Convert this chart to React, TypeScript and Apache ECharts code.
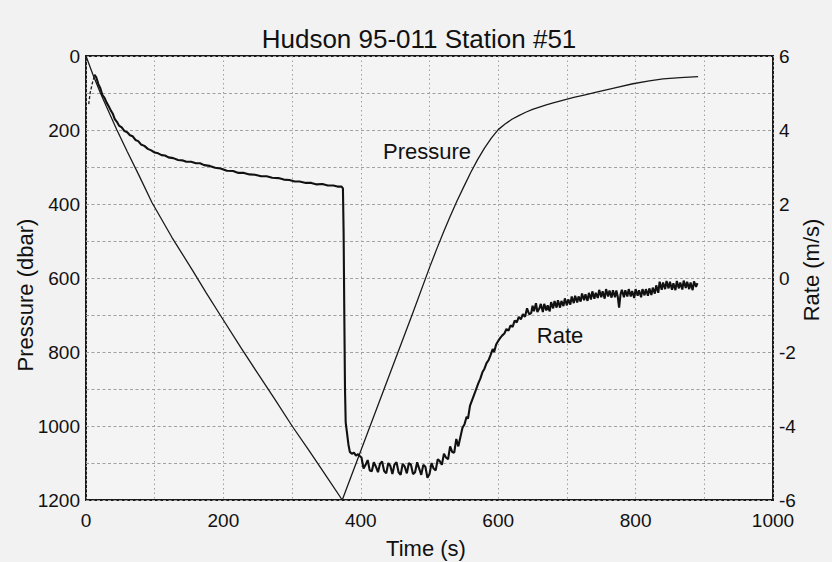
import React, { useEffect, useRef } from "react";
import * as echarts from "echarts";

// ---- data ----
const pressureDown: [number, number][] = [
  [0, 0], [10, 50], [21, 100], [30, 138], [45, 200], [60, 258], [78, 326], [96, 396],
  [125, 490], [156, 582], [175, 640], [196, 702], [225, 787], [250, 858], [275, 928],
  [300, 1000], [325, 1067], [350, 1136], [373, 1200],
];

const pressureUp: [number, number][] = [
  [373, 1200], [400, 1067], [425, 944], [450, 821], [475, 698], [500, 572], [510, 524],
  [520, 478], [530, 434], [540, 392], [550, 353], [560, 315], [570, 280], [580, 249],
  [590, 222], [600, 199], [610, 184], [620, 171], [630, 161], [640, 152], [650, 144.5],
  [660, 138], [670, 132], [680, 126.5], [695, 119], [710, 112], [725, 105.5],
  [743, 97.5], [770, 86], [796, 75], [820, 67], [840, 62], [865, 58.5], [891, 56],
];

const rateLead: [number, number][] = [
  [4, 4.7], [6, 5.0], [9, 5.25], [12, 5.45],
];

const rateDescent: [number, number][] = [
  [12, 5.5], [15, 5.42], [18, 5.24], [21, 5.12], [24, 4.94], [27, 4.87], [30, 4.74],
  [33, 4.64], [36, 4.53], [39, 4.44], [42, 4.29], [45, 4.22], [48, 4.12], [52, 4.07],
  [56, 3.97], [60, 3.94], [64, 3.86], [68, 3.83], [72, 3.73], [76, 3.7], [80, 3.61],
  [85, 3.57], [90, 3.49], [95, 3.45], [100, 3.39], [105, 3.37], [110, 3.32], [115, 3.31],
  [120, 3.26], [127, 3.24], [134, 3.19], [140, 3.18], [146, 3.14], [153, 3.14],
  [160, 3.1], [166, 3.1], [172, 3.05], [180, 3.03], [188, 2.98], [196, 2.96], [205, 2.9],
  [214, 2.89], [222, 2.84], [230, 2.84], [238, 2.8], [246, 2.79], [255, 2.75],
  [263, 2.75], [271, 2.71], [280, 2.7], [288, 2.66], [296, 2.65], [304, 2.61],
  [311, 2.61], [320, 2.57], [328, 2.57], [336, 2.53], [344, 2.54], [352, 2.5],
  [360, 2.5], [366, 2.47], [372, 2.47],
];

const rateDrop: [number, number][] = [
  [374, 2.42], [375, 1.2], [376, -1.0], [377, -3.0], [378, -3.9], [380, -4.2],
  [382, -4.5], [384, -4.7], [387, -4.75], [390, -4.72], [393, -4.8], [396, -4.76],
  [399, -4.82],
];

const rateBottom: [number, number][] = [
  [401, -4.85], [404, -5.15], [407, -5.05], [410, -4.92], [413, -5.2], [416, -5.22],
  [419, -4.98], [422, -5.1], [425, -5.25], [428, -5.02], [431, -4.96], [434, -5.22],
  [437, -5.28], [440, -5.0], [443, -5.08], [446, -5.3], [449, -5.04], [452, -4.98],
  [455, -5.25], [458, -5.32], [461, -5.02], [464, -5.1], [467, -5.28], [470, -5.0],
  [473, -5.05], [476, -5.3], [479, -5.25], [482, -4.98], [485, -5.15], [488, -5.32],
  [491, -5.05], [494, -5.1], [497, -5.4], [500, -5.3], [503, -5.0], [506, -5.15],
  [509, -5.2], [512, -4.9], [515, -4.95], [518, -5.05], [521, -4.75], [524, -4.85],
  [527, -4.9], [530, -4.55], [533, -4.7], [536, -4.72], [539, -4.35], [542, -4.55],
  [545, -4.3], [548, -4.05],
];

const rateRecovery: [number, number][] = [
  [551, -3.95], [554, -3.75], [556, -3.8], [559, -3.45], [562, -3.3], [565, -3.15],
  [568, -3.0], [571, -2.85], [574, -2.72], [577, -2.55], [580, -2.45], [583, -2.3],
  [586, -2.22], [589, -2.08], [592, -1.92], [594, -2.0], [597, -1.8], [600, -1.7],
  [603, -1.62], [606, -1.55], [609, -1.5], [612, -1.38], [615, -1.42], [618, -1.28],
  [621, -1.32], [624, -1.15], [627, -1.2], [630, -1.05], [633, -1.12], [636, -0.98],
  [639, -1.05], [642, -0.82], [645, -0.98],
];

const rateTail: [number, number][] = [
  [648, -0.95], [650, -0.75], [652, -0.9], [655, -0.68], [657, -0.92], [660, -0.82],
  [662, -0.7], [665, -0.92], [667, -0.7], [670, -0.88], [672, -0.74], [675, -0.9],
  [677, -0.65], [680, -0.82], [682, -0.62], [685, -0.8], [687, -0.6], [690, -0.8],
  [692, -0.62], [695, -0.76], [697, -0.55], [700, -0.74], [702, -0.58], [705, -0.72],
  [707, -0.5], [710, -0.68], [712, -0.48], [715, -0.66], [717, -0.5], [720, -0.64],
  [722, -0.42], [725, -0.6], [727, -0.44], [730, -0.62], [732, -0.4], [735, -0.58],
  [737, -0.36], [740, -0.56], [742, -0.4], [745, -0.54], [747, -0.32], [750, -0.52],
  [752, -0.36], [755, -0.56], [757, -0.3], [760, -0.5], [762, -0.34], [765, -0.53],
  [767, -0.33], [770, -0.52], [772, -0.34], [774, -0.5], [776, -0.8], [778, -0.45],
  [780, -0.32], [783, -0.52], [785, -0.33], [788, -0.5], [790, -0.3], [793, -0.5],
  [795, -0.35], [798, -0.54], [800, -0.3], [803, -0.48], [805, -0.33], [808, -0.52],
  [810, -0.3], [813, -0.47], [815, -0.3], [818, -0.48], [820, -0.28], [823, -0.46],
  [825, -0.26], [828, -0.42], [830, -0.2], [833, -0.4], [835, -0.1], [838, -0.32],
  [840, -0.12], [843, -0.3], [845, -0.08], [848, -0.28], [850, -0.1], [853, -0.32],
  [855, -0.14], [858, -0.33], [860, -0.08], [863, -0.28], [865, -0.12], [868, -0.31],
  [870, -0.07], [873, -0.27], [875, -0.1], [878, -0.3], [880, -0.12], [883, -0.33],
  [885, -0.09], [888, -0.24], [890, -0.14],
];

const xTicks = { min: 0, max: 1000, interval: 200 };
const pTicks = { min: 0, max: 1200, interval: 200 };
const rTicks = { min: -6, max: 6, interval: 2 };

const titleText = "Hudson 95-011 Station #51";
const xName = "Time (s)";
const yLeftName = "Pressure (dbar)";
const yRightName = "Rate (m/s)";
const pressureLabel = "Pressure";
const rateLabel = "Rate";

const FONT = '"Liberation Sans", Arial, sans-serif';

export default function App() {
  const ref = useRef<HTMLDivElement>(null);
  useEffect(() => {
    if (!ref.current) return;
    const chart = echarts.init(ref.current, null, { renderer: "svg" });
    const gridLine = (dash: number[]) => ({
      show: true,
      lineStyle: { color: "#a0a0a0", width: 1, type: dash },
    });
    const label = {
      fontFamily: FONT,
      fontSize: 19,
      color: "#111",
      formatter: (v: number) => String(v),
    };
    const txt = (
      text: string,
      x: number,
      y: number,
      size: number,
      rotation = 0
    ) => ({
      type: "text",
      x,
      y,
      rotation,
      z: 100,
      style: {
        text,
        font: `${size}px ${FONT}`,
        fontSize: size,
        fontFamily: FONT,
        fill: "#111",
        align: "center",
        verticalAlign: "middle",
        textAlign: "center",
        textVerticalAlign: "middle",
      },
    });
    chart.setOption({
      animation: false,
      backgroundColor: "#f2f2f2",
      grid: {
        left: 86,
        top: 56,
        right: 59,
        bottom: 62,
        show: true,
        borderColor: "#1a1a1a",
        borderWidth: 2,
        backgroundColor: "#f4f4f4",
        containLabel: false,
      },
      xAxis: {
        type: "value",
        ...xTicks,
        axisLine: { show: false },
        axisTick: { show: false },
        axisLabel: { ...label, margin: 11 },
        splitLine: gridLine([1.5, 3]),
        minorTick: { show: false, splitNumber: 2 },
        minorSplitLine: gridLine([1.5, 3]),
      },
      yAxis: [
        {
          type: "value",
          inverse: true,
          ...pTicks,
          axisLine: { show: false },
          axisTick: { show: false },
          axisLabel: { ...label, margin: 6 },
          splitLine: gridLine([3, 2.5]),
          minorTick: { show: false, splitNumber: 2 },
          minorSplitLine: gridLine([3, 2.5]),
        },
        {
          type: "value",
          position: "right",
          ...rTicks,
          axisLine: { show: false },
          axisTick: { show: false },
          axisLabel: { ...label, margin: 6 },
          splitLine: { show: false },
        },
      ],
      series: [
        {
          type: "line",
          name: "PressureDown",
          data: pressureDown,
          yAxisIndex: 0,
          symbol: "none",
          lineStyle: { color: "#1a1a1a", width: 1.3 },
        },
        {
          type: "line",
          name: "PressureUp",
          data: pressureUp,
          yAxisIndex: 0,
          symbol: "none",
          lineStyle: { color: "#1a1a1a", width: 1.3, join: "round" },
        },
        {
          type: "line",
          name: "RateLead",
          data: rateLead,
          yAxisIndex: 1,
          symbol: "none",
          lineStyle: { color: "#1a1a1a", width: 1.3, type: [3, 2] },
        },
        {
          type: "line",
          name: "Rate",
          data: [...rateDescent, ...rateDrop, ...rateBottom, ...rateRecovery, ...rateTail],
          yAxisIndex: 1,
          symbol: "none",
          lineStyle: { color: "#111", width: 2.1 },
        },
      ],
      graphic: [
        txt(titleText, 419, 39, 26),
        txt(xName, 426, 548, 22),
        txt(yLeftName, 25, 295, 22, Math.PI / 2),
        txt(yRightName, 811, 270, 22, Math.PI / 2),
        txt(pressureLabel, 427, 151, 22),
        txt(rateLabel, 560, 335, 22),
      ],
    });
    return () => chart.dispose();
  }, []);
  return (
    <div
      ref={ref}
      style={{ position: "fixed", left: 0, top: 0, width: 832, height: 562 }}
    />
  );
}
